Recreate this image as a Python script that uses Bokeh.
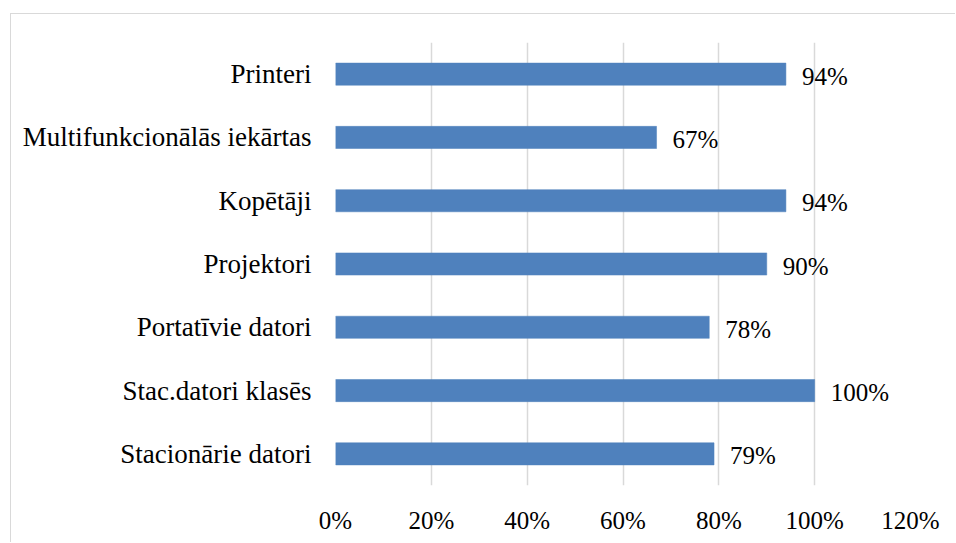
from bokeh.plotting import figure
from bokeh.models import ColumnDataSource, FixedTicker, NumeralTickFormatter, FactorRange, Range1d
from bokeh.core.properties import value
from bokeh.embed import file_html
from bokeh.resources import INLINE

categories = ["Printeri", "Multifunkcionālās iekārtas", "Kopētāji", "Projektori",
              "Portatīvie datori", "Stac.datori klasēs", "Stacionārie datori"]
values = [0.94, 0.67, 0.94, 0.90, 0.78, 1.00, 0.79]
labels = ["94%", "67%", "94%", "90%", "78%", "100%", "79%"]
ticks = [0, 0.2, 0.4, 0.6, 0.8, 1.0, 1.2]

FONT = "'Liberation Serif', 'Times New Roman', serif"

src = ColumnDataSource(dict(cat=categories, val=values, lab=labels))

p = figure(
    width=945, height=529,
    y_range=FactorRange(factors=categories[::-1]),
    x_range=Range1d(0, 1.2),
    output_backend="svg", toolbar_location=None,
    min_border_left=324, min_border_right=46, min_border_top=28, min_border_bottom=58,
    styles={"margin-left": "10px", "margin-top": "13px",
            "border-left": "1px solid #d9d9d9", "border-top": "1px solid #d9d9d9"},
)
p.outline_line_color = None
p.background_fill_color = "white"
p.border_fill_color = "white"

p.hbar(y="cat", right="val", left=0, height=0.35, source=src,
       fill_color="#4F81BD", line_color="#4F81BD", line_width=0.5)

p.text(x="val", y="cat", text="lab", source=src, x_offset=16, y_offset=2,
       text_baseline="middle", text_align="left",
       text_font=value(FONT), text_font_size="25px", text_color="black")

p.xaxis.ticker = FixedTicker(ticks=ticks)
p.xaxis.formatter = NumeralTickFormatter(format="0%")
p.xaxis.axis_line_color = None
p.xaxis.major_tick_line_color = None
p.xaxis.minor_tick_line_color = None
p.xaxis.major_label_standoff = 15
p.xaxis.major_label_text_font = FONT
p.xaxis.major_label_text_font_size = "25px"
p.xaxis.major_label_text_color = "black"

p.yaxis.axis_line_color = None
p.yaxis.major_tick_line_color = None
p.yaxis.minor_tick_line_color = None
p.yaxis.major_label_standoff = 18
p.yaxis.major_label_text_font = FONT
p.yaxis.major_label_text_font_size = "27px"
p.yaxis.major_label_text_color = "black"

p.xgrid.grid_line_color = "#d9d9d9"
p.xgrid.grid_line_width = 1.5
p.ygrid.grid_line_color = None

open("out.html", "w").write(file_html(p, INLINE))
